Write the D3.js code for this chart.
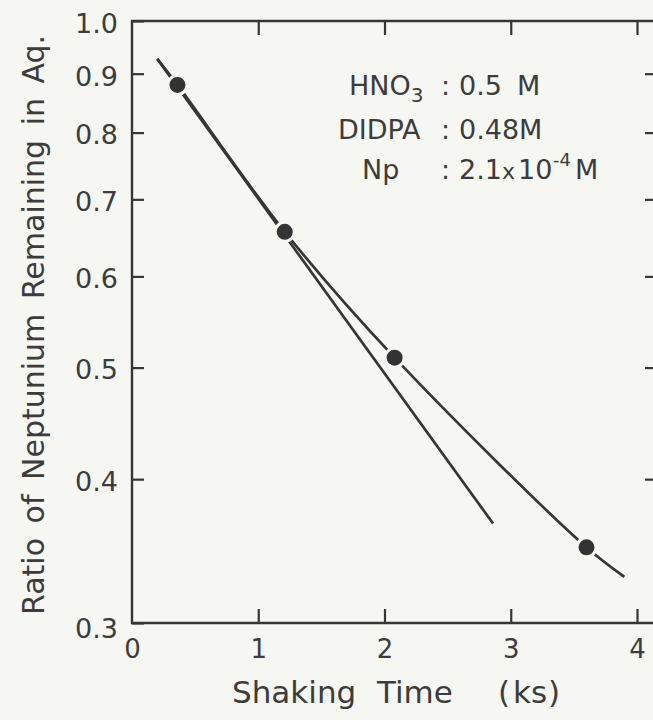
<!DOCTYPE html>
<html>
<head>
<meta charset="utf-8">
<script src="https://cdn.jsdelivr.net/npm/d3@7"></script>
<style>
  html, body { margin: 0; padding: 0; background: #f6f6f3; }
  svg { display: block; }
  text { fill: #3c3c3c; font-family: "DejaVu Sans", sans-serif; }
</style>
</head>
<body>
<div id="chart"></div>
<script>
// measured points (shaking time in ks, ratio remaining in aqueous phase)
const timeKs = [0.36, 1.21, 2.08, 3.60];
const ratio = [0.88, 0.656, 0.51, 0.349];

// straight first-order line (log scale)
const fitTime = [0.2, 2.86];
const fitRatio = [0.927, 0.366];

// smooth curve drawn through the data
const curveTime = [0.2, 0.36, 1.21, 2.08, 3.60, 3.9];
const curveRatio = [0.927, 0.88, 0.656, 0.51, 0.349, 0.329];

const xTicks = [0, 1, 2, 3, 4];
const yTicks = [0.3, 0.4, 0.5, 0.6, 0.7, 0.8, 0.9, 1.0];

drawChart();

function drawChart() {
  const width = 653;
  const height = 720;
  const left = 132, right = 658, top = 21, bottom = 623;
  const ink = "#363636";
  const paper = "#f6f6f3";

  const svg = d3.select("#chart").append("svg")
      .attr("width", width)
      .attr("height", height);

  const x = d3.scaleLinear().domain([0, 4]).range([left, 637]);
  const y = d3.scaleLog().domain([0.3, 1.0]).range([bottom, top]);

  // frame (right edge falls just outside the picture)
  svg.append("path")
      .attr("d", `M${left},${top}V${bottom}H${right}V${top}Z`)
      .attr("fill", "none")
      .attr("stroke", ink)
      .attr("stroke-width", 2.4);

  // left axis: ticks inside, labels outside
  const gl = svg.append("g")
      .attr("transform", `translate(${left},0)`)
      .call(d3.axisLeft(y).tickValues(yTicks).tickSize(-12).tickPadding(14)
        .tickFormat(d3.format(".1f")));
  gl.select(".domain").remove();
  gl.selectAll(".tick line").attr("stroke", ink).attr("stroke-width", 2.2);
  gl.selectAll(".tick text")
      .attr("font-size", 27)
      .attr("font-family", "DejaVu Sans")
      .attr("fill", "#3c3c3c")
      .attr("dy", d => d === 0.3 ? "0.55em" : "0.42em");

  // right axis ticks
  const gr = svg.append("g")
      .attr("transform", `translate(${right},0)`)
      .call(d3.axisRight(y).tickValues(yTicks.slice(1, -1)).tickSize(-13).tickFormat(""));
  gr.select(".domain").remove();
  gr.selectAll(".tick line").attr("stroke", ink).attr("stroke-width", 2.2);

  // bottom axis
  const gb = svg.append("g")
      .attr("transform", `translate(0,${bottom})`)
      .call(d3.axisBottom(x).tickValues(xTicks).tickSize(-14).tickPadding(17)
        .tickFormat(d3.format("d")));
  gb.select(".domain").remove();
  gb.selectAll(".tick line").attr("stroke", ink).attr("stroke-width", 2.2)
      .attr("opacity", d => d === 0 ? 0 : 1);
  gb.selectAll(".tick text")
      .attr("font-size", 26)
      .attr("font-family", "DejaVu Sans")
      .attr("fill", "#3c3c3c");

  // top axis ticks
  const gt = svg.append("g")
      .attr("transform", `translate(0,${top})`)
      .call(d3.axisTop(x).tickValues(xTicks.slice(1)).tickSize(-14).tickFormat(""));
  gt.select(".domain").remove();
  gt.selectAll(".tick line").attr("stroke", ink).attr("stroke-width", 2.2);

  // lines
  const line = d3.line().x(d => x(d[0])).y(d => y(d[1]));
  svg.append("path")
      .datum(d3.zip(fitTime, fitRatio))
      .attr("d", line)
      .attr("fill", "none")
      .attr("stroke", ink)
      .attr("stroke-width", 2.7);
  svg.append("path")
      .datum(d3.zip(curveTime, curveRatio))
      .attr("d", line.curve(d3.curveCatmullRom))
      .attr("fill", "none")
      .attr("stroke", ink)
      .attr("stroke-width", 2.7);

  // data points with a paper-coloured halo
  svg.selectAll(".pt")
      .data(d3.zip(timeKs, ratio))
      .enter()
      .append("circle")
      .attr("class", "pt")
      .attr("cx", d => x(d[0]))
      .attr("cy", d => y(d[1]))
      .attr("r", 9.5)
      .attr("fill", "#333")
      .attr("stroke", paper)
      .attr("stroke-width", 3);

  // conditions
  const note = svg.append("g").attr("font-size", 27);
  const row1 = note.append("text").attr("y", 95);
  row1.append("tspan").attr("x", 349).text("HNO");
  row1.append("tspan").attr("font-size", 20).attr("dy", 7).text("3");
  row1.append("tspan").attr("x", 441).attr("dy", -7).text(":");
  row1.append("tspan").attr("x", 459).text("0.5");
  row1.append("tspan").attr("x", 517).text("M");

  const row2 = note.append("text").attr("y", 139);
  row2.append("tspan").attr("x", 338).text("DIDPA");
  row2.append("tspan").attr("x", 441).text(":");
  row2.append("tspan").attr("x", 459).text("0.48M");

  const row3 = note.append("text").attr("y", 179);
  row3.append("tspan").attr("x", 362).text("Np");
  row3.append("tspan").attr("x", 441).text(":");
  row3.append("tspan").attr("x", 459).text("2.1");
  row3.append("tspan").attr("x", 502).attr("font-size", 22).text("x");
  row3.append("tspan").attr("x", 518).text("10");
  row3.append("tspan").attr("x", 553).attr("font-size", 18).attr("dy", -13).text("-4");
  row3.append("tspan").attr("x", 575).attr("dy", 13).text("M");

  // axis titles
  const xt = svg.append("text")
      .attr("y", 703)
      .attr("font-size", 31);
  xt.append("tspan").attr("x", 232).text("Shaking");
  xt.append("tspan").attr("x", 377).text("Time");
  xt.append("tspan").attr("x", 498).text("(");
  xt.append("tspan").attr("x", 513).text("ks");
  xt.append("tspan").attr("x", 548).text(")");

  svg.append("text")
      .attr("transform", "translate(44,615) rotate(-90)")
      .attr("font-size", 30)
      .attr("word-spacing", 5)
      .text("Ratio of Neptunium Remaining in Aq.");
}
</script>
</body>
</html>
